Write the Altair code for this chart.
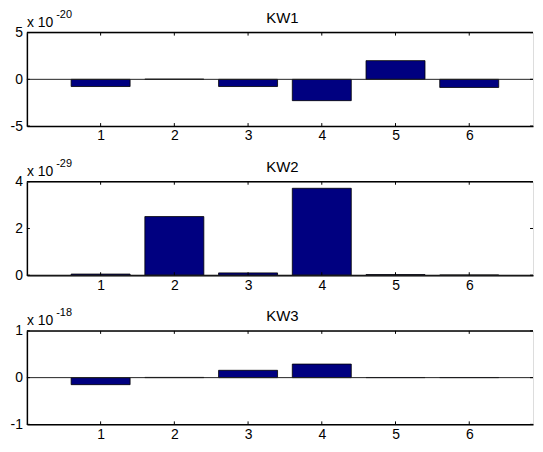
import altair as alt
import pandas as pd

categories = [1, 2, 3, 4, 5, 6]
titles = ["KW1", "KW2", "KW3"]
exponents = ["-20", "-29", "-18"]
kw1 = [-0.77, 0.02, -0.77, -2.28, 2.0, -0.87]
kw2 = [0.05, 2.51, 0.1, 3.72, 0.03, 0.01]
kw3 = [-0.15, 0.005, 0.157, 0.29, 0.003, 0.003]
series = [kw1, kw2, kw3]
y_domains = [[-5, 5], [0, 4], [-1, 1]]
y_ticks = [[-5, 0, 5], [0, 2, 4], [-1, 0, 1]]

W = 509
H = 94
XDOM = [0, 6.865]
FONT = "Liberation Sans"
NAVY = "#000080"
LBL = "(datum.value < 0 ? '-' : '') + abs(datum.value)"


def panel(i):
    xs = alt.Scale(domain=XDOM, nice=False, zero=False)
    ys = alt.Scale(domain=y_domains[i], nice=False, zero=False)
    xaxis = alt.Axis(values=categories, format="d", title=None, grid=False,
                     ticks=False, labelPadding=3, domainWidth=1.5,
                     domainColor="black", labelFontSize=14, labelFont=FONT,
                     labelColor="black")
    yaxis = alt.Axis(values=y_ticks[i], title=None, grid=False, ticks=False,
                     labelPadding=4.5, domainWidth=1.5,
                     domainColor="black", labelFontSize=14, labelFont=FONT,
                     labelColor="black", labelExpr=LBL)
    df = pd.DataFrame({"x": categories, "y": series[i]})

    bars = (
        alt.Chart(df)
        .transform_calculate(xa="datum.x - 0.4", xb="datum.x + 0.4", y0="0")
        .mark_bar(fill=NAVY, stroke="black", strokeWidth=0.8)
        .encode(
            x=alt.X("xa:Q", scale=xs, axis=xaxis),
            x2="xb:Q",
            y=alt.Y("y:Q", scale=ys, axis=yaxis),
            y2="y0:Q",
        )
    )

    zero = (
        alt.Chart(pd.DataFrame({"y": [0]}))
        .mark_rule(color="#222222", strokeWidth=1)
        .encode(y=alt.Y("y:Q", scale=ys, axis=yaxis), x=alt.value(0), x2=alt.value(W))
    )
    top = (
        alt.Chart(pd.DataFrame({"y": [0]}))
        .mark_rule(color="black", strokeWidth=1.5)
        .encode(y=alt.value(0), x=alt.value(0), x2=alt.value(W))
    )
    xt = pd.DataFrame({"x": categories})
    xt_bot = alt.Chart(xt).mark_rule(color="black").encode(
        x=alt.X("x:Q", scale=xs, axis=xaxis), y=alt.value(H - 3), y2=alt.value(H))
    xt_top = alt.Chart(xt).mark_rule(color="black").encode(
        x=alt.X("x:Q", scale=xs, axis=xaxis), y=alt.value(0), y2=alt.value(3))
    yt = pd.DataFrame({"y": y_ticks[i]})
    yt_l = alt.Chart(yt).mark_rule(color="black").encode(
        y=alt.Y("y:Q", scale=ys, axis=yaxis), x=alt.value(0), x2=alt.value(3))
    yt_r = alt.Chart(yt).mark_rule(color="black").encode(
        y=alt.Y("y:Q", scale=ys, axis=yaxis), x=alt.value(W - 3), x2=alt.value(W))

    x10 = (
        alt.Chart(pd.DataFrame({"t": ["x 10"]}))
        .mark_text(align="left", baseline="alphabetic", fontSize=14, font=FONT, color="black")
        .encode(x=alt.value(0), y=alt.value(-6), text="t:N")
    )
    sup = (
        alt.Chart(pd.DataFrame({"t": [exponents[i]]}))
        .mark_text(align="left", baseline="alphabetic", fontSize=11, font=FONT, color="black")
        .encode(x=alt.value(29.5), y=alt.value(-14.5), text="t:N")
    )
    ttl = (
        alt.Chart(pd.DataFrame({"t": [titles[i]]}))
        .mark_text(align="center", baseline="alphabetic", fontSize=15, font=FONT, color="black")
        .encode(x=alt.value(257), y=alt.value(-10), text="t:N")
    )

    return alt.layer(bars, zero, top, xt_bot, xt_top, yt_l, yt_r, x10, sup, ttl).properties(
        width=W, height=H)


chart = (
    alt.vconcat(panel(0), panel(1), panel(2), spacing=56, bounds="flush")
    .properties(padding={"left": 1, "top": -0.5, "right": 0, "bottom": 0})
    .configure_view(stroke=None)
    .configure(background="white")
)

chart.save("out.html", embed_options={"renderer": "svg", "actions": False})
